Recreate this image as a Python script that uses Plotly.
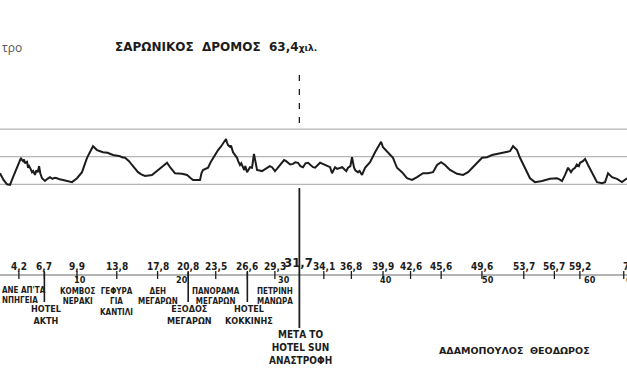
import plotly.graph_objects as go

# ---- profile data (km along route, relative elevation) ----
km = [2.35, 2.7, 3.04, 3.33, 3.63, 4.02, 4.2, 4.41, 4.5, 4.61, 4.7, 4.8, 4.90, 5.0, 5.10, 5.2,
      5.35, 5.49, 5.6, 5.78, 5.9, 6.05, 6.18, 6.3, 6.47, 6.76, 7.0, 7.25, 7.5, 7.7, 7.94, 8.2,
      8.53, 9.0, 9.41, 9.90, 10.39, 10.88, 11.2, 11.47, 11.86, 12.2, 12.45, 12.9, 13.43, 14.12,
      14.3, 14.61, 15.0, 15.29, 15.88, 16.2, 16.57, 17.25, 17.84, 18.24, 18.5, 18.73, 19.02,
      19.51, 20.20, 20.69, 21.0, 21.27, 21.96, 22.1, 22.25, 22.75, 23.0, 23.24, 23.5, 23.73,
      24.0, 24.22, 24.4, 24.51, 24.6, 24.71, 24.9, 25.0, 25.20, 25.4, 25.59, 25.7, 25.88, 26.0,
      26.18, 26.3, 26.4, 26.57, 26.86, 27.06, 27.25, 27.55, 28.04, 28.3, 28.53, 28.8, 29.02,
      29.31, 29.5, 29.80, 30.0, 30.20, 30.4, 30.59, 30.8, 31.08, 31.3, 31.57, 31.8, 32.06, 32.3,
      32.55, 32.8, 33.04, 33.24, 33.5, 33.73, 34.0, 34.22, 34.5, 34.71, 34.90, 35.20, 35.4,
      35.69, 35.9, 36.18, 36.3, 36.47, 36.7, 36.86, 37.06, 37.2, 37.45, 37.6, 37.84, 38.14,
      38.63, 39.12, 39.41, 39.71, 39.90, 40.39, 40.88, 41.27, 41.76, 42.25, 42.75, 43.24,
      43.82, 44.31, 44.80, 45.20, 45.59, 45.98, 46.47, 47.16, 47.75, 48.24, 48.43, 48.92,
      49.61, 50.10, 50.59, 51.18, 51.86, 52.35, 52.65, 53.04, 53.33, 53.82, 54.31, 54.80,
      55.49, 56.27, 56.96, 57.2, 57.45, 57.75, 57.9, 58.04, 58.33, 58.5, 58.73, 58.9, 59.1,
      59.22, 59.5, 59.71, 60.00, 60.39, 60.88, 61.37, 61.67, 61.96, 62.35, 62.84, 63.33, 63.82]
elev = [20, 8, 0, -1, 13, 30, 37, 48, 44, 42, 45, 38, 40, 41, 30, 33,
        28, 22, 24, 17, 25, 22, 33, 20, 11, 6, 10, 13, 10, 12, 11, 9,
        8, 6, 4, 11, 22, 48, 60, 69, 62, 60, 58, 57, 53, 51,
        49, 48, 42, 35, 22, 18, 15, 17, 26, 31, 36, 39, 31,
        20, 19, 17, 12, 8, 8, 20, 26, 30, 40, 48, 55, 62,
        68, 75, 78, 82, 76, 71, 68, 70, 58, 52, 48, 42, 35, 38,
        30, 26, 33, 22, 31, 30, 55, 26, 24, 27, 30, 33, 31,
        24, 28, 35, 40, 44, 42, 39, 36, 37, 40, 39, 33, 31, 38,
        39, 35, 31, 30, 35, 39, 37, 35, 33, 31, 20, 31, 28,
        30, 31, 26, 24, 30, 33, 49, 30, 25, 22, 24, 17, 30,
        40, 58, 67, 77, 67, 58, 48, 30, 22, 11, 8, 13,
        20, 20, 22, 35, 40, 35, 26, 19, 17, 22, 26, 35,
        48, 49, 53, 55, 58, 60, 69, 62, 48, 30, 11, 4,
        6, 10, 11, 9, 6, 17, 24, 30, 22, 27, 30, 36, 33,
        39, 42, 46, 35, 20, 4, 2, 4, 20, 13, 10, 4, 11]

grid_levels = [0, 50, 100]

tick_km = [4.2, 6.7, 9.9, 13.8, 17.8, 20.8, 23.5, 26.6, 29.3, 34.1, 36.8, 39.9,
           42.6, 45.6, 49.6, 53.7, 56.7, 59.2]
tick_labels = ["4,2", "6,7", "9,9", "13,8", "17,8", "20,8", "23,5", "26,6", "29,3",
               "34,1", "36,8", "39,9", "42,6", "45,6", "49,6", "53,7", "56,7", "59,2"]
decade_km = [10, 20, 30, 40, 50, 60]
decade_labels = ["10", "20", "30", "40", "50", "60"]

turn_km = 31.7
turn_label = "31,7"

place_km = [9.9, 13.8, 17.8, 23.5, 29.3]
place_labels = ["ΚΟΜΒΟΣ<br>ΝΕΡΑΚΙ", "ΓΕΦΥΡΑ<br>ΓΙΑ<br>ΚΑΝΤΙΛΙ", "ΔΕΗ<br>ΜΕΓΑΡΩΝ",
                "ΠΑΝΟΡΑΜΑ<br>ΜΕΓΑΡΩΝ", "ΠΕΤΡΙΝΗ<br>ΜΑΝΩΡΑ"]
stem_km = [6.7, 20.8, 26.6]
stem_labels = ["HOTEL<br>ΑΚΤΗ", "ΕΞΟΔΟΣ<br>ΜΕΓΑΡΩΝ", "HOTEL<br>ΚΟΚΚΙΝΗΣ"]

title_text = "ΣΑΡΩΝΙΚΟΣ  ΔΡΟΜΟΣ  63,4<span style='font-size:9px'>χιλ.</span>"
author_text = "ΑΔΑΜΟΠΟΥΛΟΣ  ΘΕΟΔΩΡΟΣ"

W, H = 627, 376
X0, X1 = 2.35, 63.82
Y_TOP, Y_BOT = 333.6, -346.9
FONT = "DejaVu Sans Condensed, DejaVu Sans, sans-serif"
WIDE = "DejaVu Sans, sans-serif"
INK = "#1c1c1c"


def py(p):
    """page pixel row -> paper fraction"""
    return 1 - p / H


def f(size, fam=FONT):
    return dict(family=fam, size=size, color=INK, weight="bold")


fig = go.Figure()
fig.add_trace(go.Scatter(x=km, y=elev, mode="lines",
                         line=dict(color=INK, width=2), hoverinfo="skip"))

shapes = []
for g in grid_levels:
    shapes.append(dict(type="line", xref="paper", yref="y", x0=0, x1=1, y0=g, y1=g,
                       line=dict(color="#b5b5b5", width=1.3), layer="below"))
shapes.append(dict(type="line", xref="paper", yref="paper", x0=0, x1=1,
                   y0=py(275), y1=py(275), line=dict(color="#9a9a9a", width=1.3)))
for k in tick_km:
    shapes.append(dict(type="line", xref="x", yref="paper", x0=k, x1=k,
                       y0=py(271), y1=py(279), line=dict(color=INK, width=1.3)))
for k in stem_km:
    shapes.append(dict(type="line", xref="x", yref="paper", x0=k, x1=k,
                       y0=py(272), y1=py(302), line=dict(color=INK, width=1.6)))
shapes.append(dict(type="line", xref="x", yref="paper", x0=turn_km, x1=turn_km,
                   y0=py(75), y1=py(128), line=dict(color=INK, width=1.3, dash="6px,8px")))
shapes.append(dict(type="line", xref="x", yref="paper", x0=turn_km, x1=turn_km,
                   y0=py(188), y1=py(328), line=dict(color=INK, width=1.8)))
shapes.append(dict(type="line", xref="x", yref="paper", x0=63.5, x1=63.5,
                   y0=py(271), y1=py(279), line=dict(color=INK, width=1.3)))

ann = []
for k, t in zip(tick_km, tick_labels):
    ann.append(dict(x=k, y=py(266), xref="x", yref="paper", text=t, showarrow=False,
                    font=f(10), xanchor="center", yanchor="middle"))
for k, t in zip(decade_km, decade_labels):
    ann.append(dict(x=k + 0.2, y=py(279.5), xref="x", yref="paper", text=t, showarrow=False,
                    font=f(9), xanchor="center", yanchor="middle"))
for k, t in zip(place_km, place_labels):
    ann.append(dict(x=k, y=py(284.5), xref="x", yref="paper", text=t, showarrow=False,
                    font=f(8), xanchor="center", yanchor="top"))
for k, t in zip(stem_km, stem_labels):
    ann.append(dict(x=k + 0.15, y=py(302), xref="x", yref="paper", text=t, showarrow=False,
                    font=f(9), xanchor="center", yanchor="top"))
ann.append(dict(x=turn_km - 0.1, y=py(262), xref="x", yref="paper", text=turn_label,
                showarrow=False, font=f(13), xanchor="center", yanchor="middle"))
ann.append(dict(x=turn_km + 0.1, y=py(327), xref="x", yref="paper",
                text="ΜΕΤΑ ΤΟ<br>HOTEL SUN<br>ΑΝΑΣΤΡΟΦΗ", showarrow=False,
                font=f(10), xanchor="center", yanchor="top"))
ann.append(dict(x=0, y=py(284), xref="paper", yref="paper",
                text="ΑΝΕ ΑΠ'ΤΑ<br>ΝΠΗΓΕΙΑ", showarrow=False, align="left",
                font=f(8), xanchor="left", yanchor="top"))
ann.append(dict(x=63.2, y=py(266), xref="x", yref="paper", text="7(",
                showarrow=False, font=f(10), xanchor="left", yanchor="middle"))
ann.append(dict(x=63.5, y=py(280), xref="x", yref="paper", text="6",
                showarrow=False, font=f(9), xanchor="left", yanchor="middle"))
ann.append(dict(x=216 / W, y=py(47), xref="paper", yref="paper", text=title_text,
                showarrow=False, font=f(12, WIDE), xanchor="center", yanchor="middle"))
ann.append(dict(x=0, y=py(47), xref="paper", yref="paper", text="τρο",
                showarrow=False, font=dict(family="Open Sans", size=12, color="#555555"),
                xanchor="left", yanchor="middle"))
ann.append(dict(x=514 / W, y=py(350), xref="paper", yref="paper", text=author_text,
                showarrow=False, font=f(9.5, WIDE), xanchor="center", yanchor="middle"))

fig.update_layout(
    width=W, height=H,
    margin=dict(l=0, r=0, t=0, b=0, pad=0),
    paper_bgcolor="white", plot_bgcolor="white",
    showlegend=False,
    xaxis=dict(range=[X0, X1], visible=False, fixedrange=True),
    yaxis=dict(range=[Y_BOT, Y_TOP], visible=False, fixedrange=True),
    shapes=shapes, annotations=ann,
)
fig.write_html("out.html", config={"displayModeBar": False})
